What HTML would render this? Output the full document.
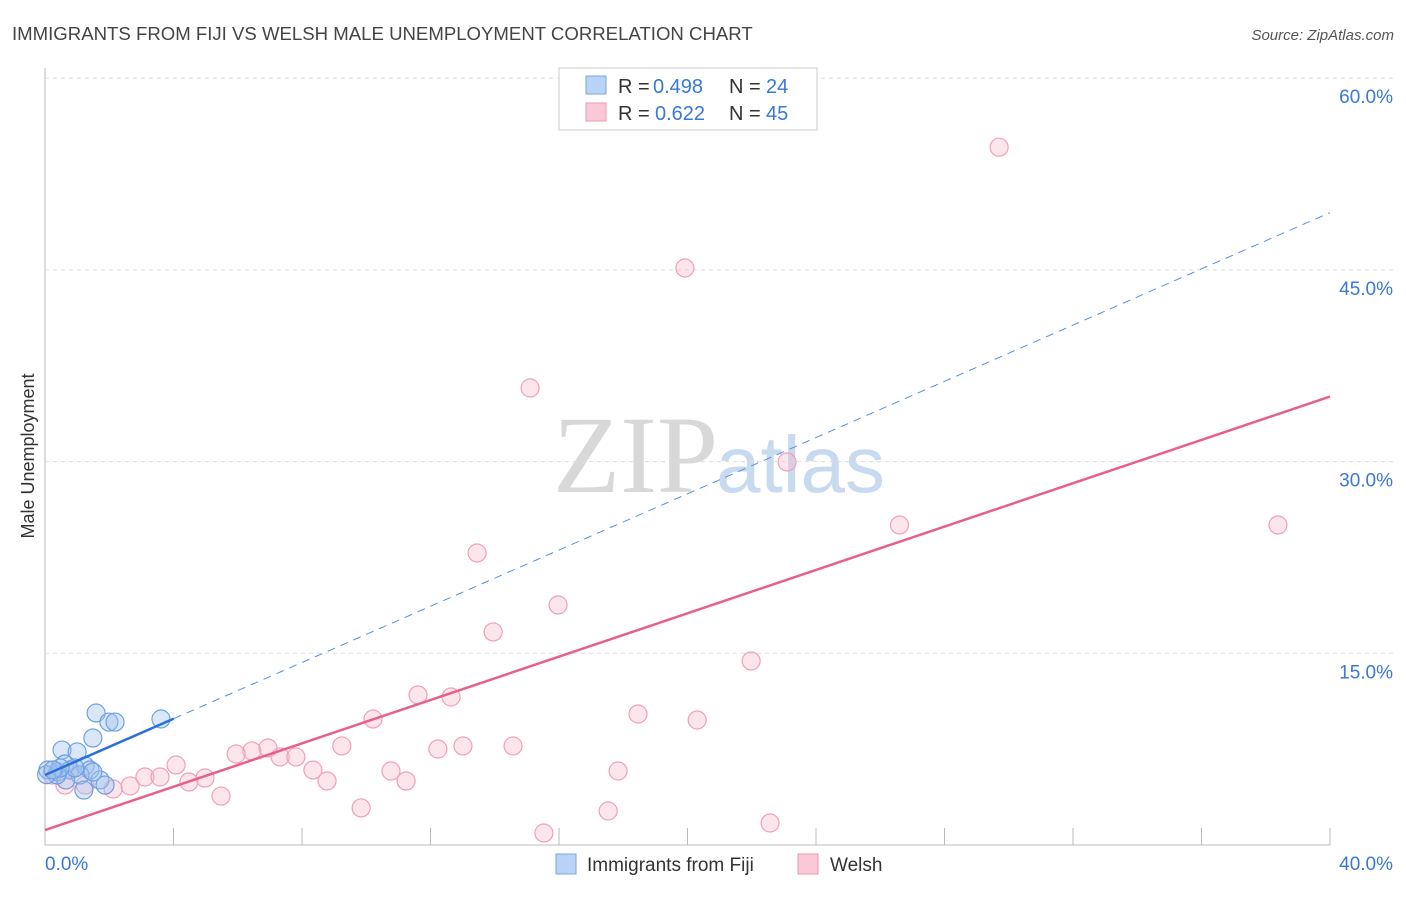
<!DOCTYPE html>
<html><head><meta charset="utf-8"><style>
body{margin:0;background:#fff;font-family:"Liberation Sans",sans-serif}
#wrap{position:relative;width:1406px;height:892px}
</style></head><body>
<div id="wrap">
<svg id="svg" width="1406" height="892" xmlns="http://www.w3.org/2000/svg">
<text x="12" y="40" font-size="18.6" fill="#444">IMMIGRANTS FROM FIJI VS WELSH MALE UNEMPLOYMENT CORRELATION CHART</text>
<text x="1394" y="40" font-size="15" fill="#555" text-anchor="end" font-style="italic">Source: ZipAtlas.com</text>
<text x="34" y="456" font-size="18" fill="#333" text-anchor="middle" transform="rotate(-90 34 456)">Male Unemployment</text>
<text x="553" y="492" font-size="110" fill="#d8d8d8" font-family="Liberation Serif,serif">ZIP</text>
<text x="716" y="492" font-size="80" fill="#c8daf0">atlas</text>
<g id="grid"></g><g id="marks"></g>
<g>
<rect x="559" y="68" width="258" height="62" fill="#fff" stroke="#ccc"/>
<rect x="586" y="76" width="20" height="18" fill="#b8d3f5" stroke="#7aa7e0"/>
<rect x="586" y="103" width="20" height="18" fill="#fbc8d8" stroke="#ee9ab4"/>
<text x="618" y="93" font-size="20" fill="#333">R =</text><text x="653" y="93" font-size="20" fill="#3a78d6">0.498</text>
<text x="729" y="93" font-size="20" fill="#333">N =</text><text x="766" y="93" font-size="20" fill="#3a78d6">24</text>
<text x="618" y="120" font-size="20" fill="#333">R =</text><text x="655" y="120" font-size="20" fill="#3a78d6">0.622</text>
<text x="729" y="120" font-size="20" fill="#333">N =</text><text x="766" y="120" font-size="20" fill="#3a78d6">45</text>
</g>
<g>
<rect x="556" y="854" width="20" height="20" fill="#b8d3f5" stroke="#7aa7e0"/>
<text x="587" y="871" font-size="19" fill="#333">Immigrants from Fiji</text>
<rect x="798" y="854" width="20" height="20" fill="#fbc8d8" stroke="#ee9ab4"/>
<text x="830" y="871" font-size="19" fill="#333">Welsh</text>
</g>
</svg></div>
<script>
const yTicks=[15,30,45,60];
const yTickLabels=["15.0%","30.0%","45.0%","60.0%"];
const xTickLabels=["0.0%","40.0%"];
const fijiX=[1.59,1.99,2.18,1.49,3.61,0.53,1.0,0.09,0.4,0.62,0.78,1.25,1.4,1.09,1.71,1.87,1.21,0.65,0.37,0.05,0.93,1.49,0.47,0.25];
const fijiY=[10.33,9.62,9.62,8.37,9.86,7.43,7.28,5.87,5.71,6.34,5.87,6.18,5.87,5.48,5.09,4.69,4.3,5.09,5.48,5.5,6.03,5.71,6.03,5.87];
const welshX=[29.7,19.92,15.1,23.1,26.6,38.38,13.45,15.97,13.95,21.98,11.61,12.64,18.46,20.3,10.21,9.24,12.23,13.01,14.57,6.94,6.44,5.95,7.32,7.81,4.08,8.34,10.77,17.84,3.11,3.58,4.98,4.48,8.78,11.24,2.65,2.12,5.48,9.84,17.53,22.57,15.53,0.22,0.62,1.25,0.78];
const welshY=[54.6,45.15,35.76,29.97,25.04,25.04,22.85,18.78,16.67,14.4,11.74,11.58,10.25,9.78,9.86,7.75,7.51,7.75,7.75,7.59,7.36,7.12,6.89,6.89,6.26,5.87,5.79,5.79,5.32,5.32,5.24,4.93,5.01,5.01,4.62,4.38,3.83,2.9,2.66,1.72,0.94,5.48,4.69,4.69,5.87];
const fijiTrend=[5.48,1.1];   // intercept, slope
const welshTrend=[1.17,0.848];
const X=v=>45+v/40*1285, Y=v=>845-v*12.78;
const NS="http://www.w3.org/2000/svg";
function mk(t,a,p){const e=document.createElementNS(NS,t);for(const k in a)e.setAttribute(k,a[k]);p.appendChild(e);return e;}
const g=document.getElementById('grid'), m=document.getElementById('marks');
let ax=mk('line',{x1:45,y1:68,x2:45,y2:845,stroke:'#bbb'},g);


let bx=mk('line',{x1:45,y1:845,x2:1330,y2:845,stroke:'#bbb'},g);


yTicks.forEach((v,i)=>{
  const l=mk('line',{x1:45,y1:Y(v),x2:1394,y2:Y(v),stroke:'#ddd','stroke-dasharray':'4,4'},g);
  
  
  const t=mk('text',{x:1393,y:Y(v)+25,'font-size':19,fill:'#3a78d6','text-anchor':'end'},g);t.textContent=yTickLabels[i];
  
  
});
for(let i=1;i<=10;i++){const x=45+i*128.5;const l=mk('line',{x1:x,y1:828,x2:x,y2:845,stroke:'#bbb'},g);
  
  }
[[0,'start',45],[1,'end',1393]].forEach(([i,a,x])=>{const t=mk('text',{x:x,y:870,'font-size':19,fill:'#3a78d6','text-anchor':a},g);t.textContent=xTickLabels[i];
  
  });
welshX.forEach((x,i)=>{const c=mk('circle',{cx:X(x),cy:Y(welshY[i]),r:9,fill:'rgba(248,180,200,0.35)',stroke:'#f0a0ba','stroke-width':1.2},m);
  
  });
fijiX.forEach((x,i)=>{const c=mk('circle',{cx:X(x),cy:Y(fijiY[i]),r:9,fill:'rgba(160,195,240,0.4)',stroke:'#6fa0e0','stroke-width':1.2},m);
  
  });
let wl=mk('line',{x1:X(0),y1:Y(welshTrend[0]),x2:X(40),y2:Y(welshTrend[0]+40*welshTrend[1]),stroke:'#e8608a','stroke-width':2.5},m);


const fe=Math.max(...fijiX)+0.4;
let fl=mk('line',{x1:X(0),y1:Y(fijiTrend[0]),x2:X(fe),y2:Y(fijiTrend[0]+fe*fijiTrend[1]),stroke:'#2a70d8','stroke-width':2.5},m);


let fd=mk('line',{x1:X(fe),y1:Y(fijiTrend[0]+fe*fijiTrend[1]),x2:X(40),y2:Y(fijiTrend[0]+40*fijiTrend[1]),stroke:'#5a90dd','stroke-width':1,'stroke-dasharray':'8,6'},m);


</script>
</body></html>
